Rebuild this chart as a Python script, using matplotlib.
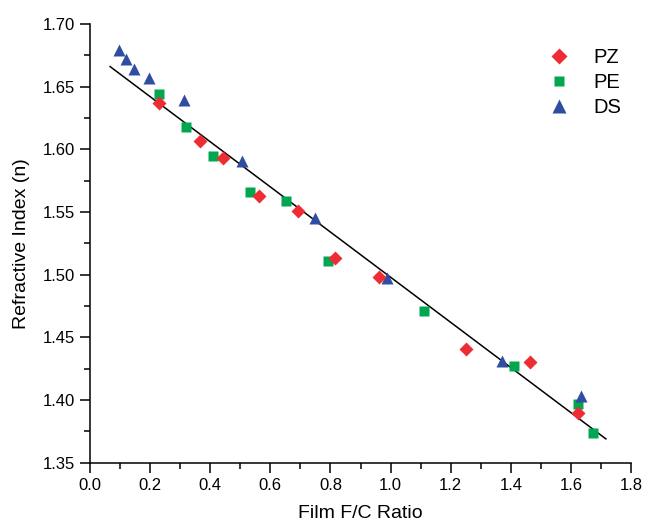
import numpy as np
import matplotlib
matplotlib.use("Agg")
import matplotlib.pyplot as plt
from matplotlib.ticker import MultipleLocator, FormatStrFormatter

plt.rcParams['font.family'] = ['Liberation Sans', 'DejaVu Sans']

# data
pz_x = [0.231, 0.366, 0.442, 0.562, 0.691, 0.814, 0.961, 1.252, 1.463, 1.623]
pz_y = [1.637, 1.607, 1.593, 1.563, 1.551, 1.513, 1.498, 1.441, 1.430, 1.390]
pe_x = [0.231, 0.320, 0.410, 0.532, 0.651, 0.792, 1.112, 1.411, 1.623, 1.673]
pe_y = [1.644, 1.618, 1.595, 1.566, 1.559, 1.511, 1.471, 1.427, 1.397, 1.374]
ds_x = [0.097, 0.119, 0.147, 0.197, 0.313, 0.507, 0.749, 0.989, 1.372, 1.632]
ds_y = [1.679, 1.672, 1.664, 1.657, 1.639, 1.591, 1.545, 1.497, 1.431, 1.403]
fit_x = [0.067, 1.716]
fit_y = [1.666, 1.369]

fig = plt.figure(figsize=(6.45, 5.27), dpi=100)
ax = fig.add_axes([0.1395, 0.122, 0.839, 0.8325])

ax.plot(fit_x, fit_y, color='black', lw=1.1, zorder=1)
ax.plot(pz_x, pz_y, 'D', color='#ED2D33', ms=7.2, mec='none', label='PZ', zorder=3)
ax.plot(pe_x, pe_y, 's', color='#00A650', ms=6.6, mec='none', label='PE', zorder=2)
ax.plot(ds_x, ds_y, '^', color='#2F4EA2', ms=9, mec='none', label='DS', zorder=2)

ax.set_xlim(0, 1.8)
ax.set_ylim(1.35, 1.70)
ax.xaxis.set_major_locator(MultipleLocator(0.2))
ax.xaxis.set_minor_locator(MultipleLocator(0.1))
ax.yaxis.set_major_locator(MultipleLocator(0.05))
ax.yaxis.set_minor_locator(MultipleLocator(0.025))
ax.xaxis.set_major_formatter(FormatStrFormatter('%.1f'))
ax.yaxis.set_major_formatter(FormatStrFormatter('%.2f'))
ax.tick_params(which='major', direction='out', length=7, width=1.1, labelsize=12, pad=4)
ax.tick_params(which='minor', direction='out', length=4, width=1.1)

for s in ['top', 'right']:
    ax.spines[s].set_visible(False)
for s in ['left', 'bottom']:
    ax.spines[s].set_linewidth(1.1)

ax.set_xlabel('Film F/C Ratio', fontsize=14, labelpad=9)
ax.set_ylabel('Refractive Index (n)', fontsize=14, labelpad=9)

ax.legend(loc='upper left', bbox_to_anchor=(549 / 645, 1 - 48 / 527),
          bbox_transform=fig.transFigure, frameon=False, fontsize=14.5,
          handlelength=1.0, handletextpad=1.2, labelspacing=0.3,
          borderaxespad=0, borderpad=0, markerscale=1.15, numpoints=1)

fig.savefig('out.png', dpi=100)
